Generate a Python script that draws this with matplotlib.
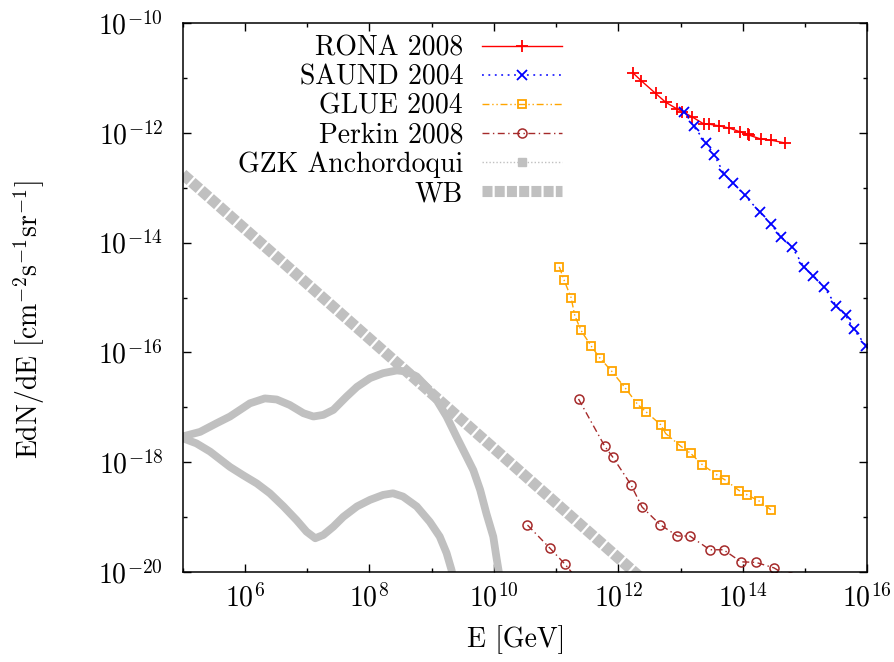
import numpy as np
import matplotlib
matplotlib.use('Agg')
import matplotlib.pyplot as plt
from matplotlib.lines import Line2D

plt.rcParams['font.family'] = 'serif'
plt.rcParams['font.serif'] = ['cmr10', 'DejaVu Serif']
plt.rcParams['mathtext.fontset'] = 'cm'
plt.rcParams['axes.unicode_minus'] = False
plt.rcParams['axes.formatter.use_mathtext'] = True

# all values are log10 (E in GeV, EdN/dE in cm^-2 s^-1 sr^-1)
rona_logE = [12.23, 12.37, 12.60, 12.76, 12.94, 13.03, 13.19, 13.38, 13.46, 13.62,
	13.78, 13.96, 14.08, 14.10, 14.29, 14.45, 14.67]
rona_logF = [-10.90, -11.05, -11.28, -11.44, -11.56, -11.61, -11.71, -11.84, -11.84, -11.87,
	-11.91, -11.98, -12.02, -12.04, -12.11, -12.13, -12.18]

saund_logE = [13.06, 13.21, 13.41, 13.54, 13.70, 13.85, 14.03, 14.28, 14.45, 14.61,
	14.79, 14.98, 15.13, 15.30, 15.50, 15.65, 15.78, 15.98]
saund_logF = [-11.61, -11.88, -12.18, -12.40, -12.75, -12.92, -13.14, -13.45, -13.66, -13.89,
	-14.08, -14.44, -14.60, -14.80, -15.15, -15.32, -15.58, -15.88]

glue_logE = [11.05, 11.13, 11.24, 11.30, 11.40, 11.56, 11.70, 11.89, 12.11, 12.31, 12.45,
	12.68, 12.76, 13.00, 13.16, 13.35, 13.59, 13.72, 13.94, 14.07, 14.26, 14.45]
glue_logF = [-14.44, -14.69, -15.00, -15.33, -15.60, -15.88, -16.10, -16.34, -16.65, -16.95, -17.09,
	-17.32, -17.48, -17.71, -17.84, -18.05, -18.24, -18.33, -18.52, -18.60, -18.71, -18.87]

perkin_logE = [11.36, 11.78, 11.91, 12.20, 12.38, 12.67, 12.95, 13.15, 13.47, 13.69,
	13.97, 14.21, 14.50, 14.75]
perkin_logF = [-16.85, -17.71, -17.91, -18.41, -18.82, -19.14, -19.35, -19.35, -19.60, -19.60,
	-19.82, -19.83, -19.93, -20.10]
perkin2_logE = [10.54, 10.90, 11.14, 11.35]
perkin2_logF = [-19.15, -19.57, -19.86, -20.15]

gzk1_logE = [4.98, 5.28, 5.55, 5.76, 5.92, 6.08, 6.32, 6.51, 6.72, 6.94, 7.10, 7.26, 7.42,
	7.63, 7.80, 8.01, 8.22, 8.44, 8.60, 8.76, 8.92, 9.08, 9.24, 9.40, 9.56, 9.67, 9.78,
	9.88, 9.99, 10.04, 10.10]
gzk1_logF = [-17.54, -17.45, -17.29, -17.17, -17.05, -16.93, -16.84, -16.86, -16.96, -17.11, -17.17,
	-17.14, -17.05, -16.81, -16.63, -16.47, -16.38, -16.33, -16.35, -16.44, -16.63, -16.87, -17.17,
	-17.54, -17.90, -18.15, -18.51, -18.94, -19.36, -19.73, -20.15]
gzk2_logE = [5.01, 5.22, 5.44, 5.76, 5.97, 6.19, 6.40, 6.62, 6.83, 6.99, 7.13, 7.26, 7.42,
	7.58, 7.80, 8.01, 8.22, 8.38, 8.54, 8.76, 8.97, 9.13, 9.24, 9.32, 9.35]
gzk2_logF = [-17.57, -17.66, -17.81, -18.09, -18.24, -18.39, -18.57, -18.81, -19.06, -19.27, -19.39,
	-19.33, -19.18, -19.00, -18.81, -18.69, -18.60, -18.57, -18.63, -18.81, -19.09, -19.36, -19.66,
	-19.97, -20.15]

wb_logE = [5.0, 13.0]
wb_logF = [-12.75, -20.75]

grey = '#c0c0c0'

fig = plt.figure(figsize=(8.94, 6.62), dpi=100)
ax = fig.add_axes([182.7/894, 1-571.7/662, (867.3-182.7)/894, (571.7-23.3)/662])

def p(v):
	return 10.0 ** np.array(v)

# background model curves first
ax.plot(p(wb_logE), p(wb_logF), color=grey, lw=8, ls=(0, (0.9, 0.2)), solid_capstyle='butt',
	dash_capstyle='butt')
ax.plot(p(gzk1_logE), p(gzk1_logF), color=grey, lw=5.6, solid_capstyle='butt', solid_joinstyle='round')
ax.plot(p(gzk2_logE), p(gzk2_logF), color=grey, lw=5.6, solid_capstyle='butt', solid_joinstyle='round')

ax.plot(p(rona_logE), p(rona_logF), color='red', lw=1.0, marker='+', ms=8, mew=1.3)
ax.plot(p(saund_logE), p(saund_logF), color='blue', lw=1.1, ls=(0, (1.2, 3)), marker='x', ms=6.5, mew=1.3)
ax.plot(p(glue_logE), p(glue_logF), color='orange', lw=1.0, ls=(0, (5, 2, 1, 2, 1, 2)),
	marker='s', ms=6.3, mfc='none', mew=1.3)
ax.plot(p(perkin_logE), p(perkin_logF), color='#a52a2a', lw=1.0, ls=(0, (5, 2.5, 1, 2.5)),
	marker='o', ms=6.5, mfc='none', mew=1.1)
ax.plot(p(perkin2_logE), p(perkin2_logF), color='#a52a2a', lw=1.0, ls=(0, (5, 2.5, 1, 2.5)),
	marker='o', ms=6.5, mfc='none', mew=1.1)

ax.set_xscale('log')
ax.set_yscale('log')
ax.set_xlim(1e5, 1e16)
ax.set_ylim(1e-20, 1e-10)

xmaj = [6, 8, 10, 12, 14, 16]
ymaj = [-20, -18, -16, -14, -12, -10]
ax.set_xticks([10.0 ** k for k in xmaj])
ax.set_xticklabels([r'$10^{%d}$' % k for k in xmaj])
ax.set_xticks([10.0 ** k for k in range(5, 16, 2)], minor=True)
ax.set_yticks([10.0 ** k for k in ymaj])
ax.set_yticklabels([r'$10^{%d}$' % k for k in ymaj])
ax.set_yticks([10.0 ** k for k in range(-19, -10, 2)], minor=True)
ax.set_xticklabels([], minor=True)
ax.set_yticklabels([], minor=True)
ax.tick_params(which='both', direction='in', top=True, right=True, width=1.0, labelsize=20)
ax.tick_params(which='major', length=6)
ax.tick_params(which='minor', length=3)
ax.tick_params(axis='x', which='major', pad=9)
ax.tick_params(axis='y', which='major', pad=14)
for s in ax.spines.values():
	s.set_linewidth(1.1)

fig.text(29/894, 1-320/662, r'EdN/dE [cm$^{-2}$s$^{-1}$sr$^{-1}$]', rotation=90,
	ha='center', va='center', fontsize=20)
fig.text(516/894, 1-640/662, 'E [GeV]', ha='center', va='center', fontsize=20)

handles = [
	Line2D([], [], color='red', lw=1.0, marker='+', ms=8, mew=1.3),
	Line2D([], [], color='blue', lw=1.1, ls=(0, (1.2, 3)), marker='x', ms=6.5, mew=1.3),
	Line2D([], [], color='orange', lw=1.0, ls=(0, (5, 2, 1, 2, 1, 2)), marker='s', ms=6.3, mfc='none', mew=1.3),
	Line2D([], [], color='#a52a2a', lw=1.0, ls=(0, (5, 2.5, 1, 2.5)), marker='o', ms=6.5, mfc='none', mew=1.1),
	Line2D([], [], color=grey, lw=1.0, ls=(0, (1, 1.5)), marker='s', ms=6, mec=grey),
	Line2D([], [], color=grey, lw=8, ls=(0, (0.9, 0.2)), dash_capstyle='butt'),
]
labels = ['RONA 2008', 'SAUND 2004', 'GLUE 2004', 'Perkin 2008', 'GZK Anchordoqui', 'WB']
ax.legend(handles, labels, loc='upper right', bbox_to_anchor=(562/894, 1-35/662),
	bbox_transform=fig.transFigure, frameon=False, markerfirst=False, fontsize=20,
	handlelength=2.88, handletextpad=0.68, labelspacing=0.1, borderpad=0, borderaxespad=0,
	numpoints=1)

fig.savefig('out.png', dpi=100)
